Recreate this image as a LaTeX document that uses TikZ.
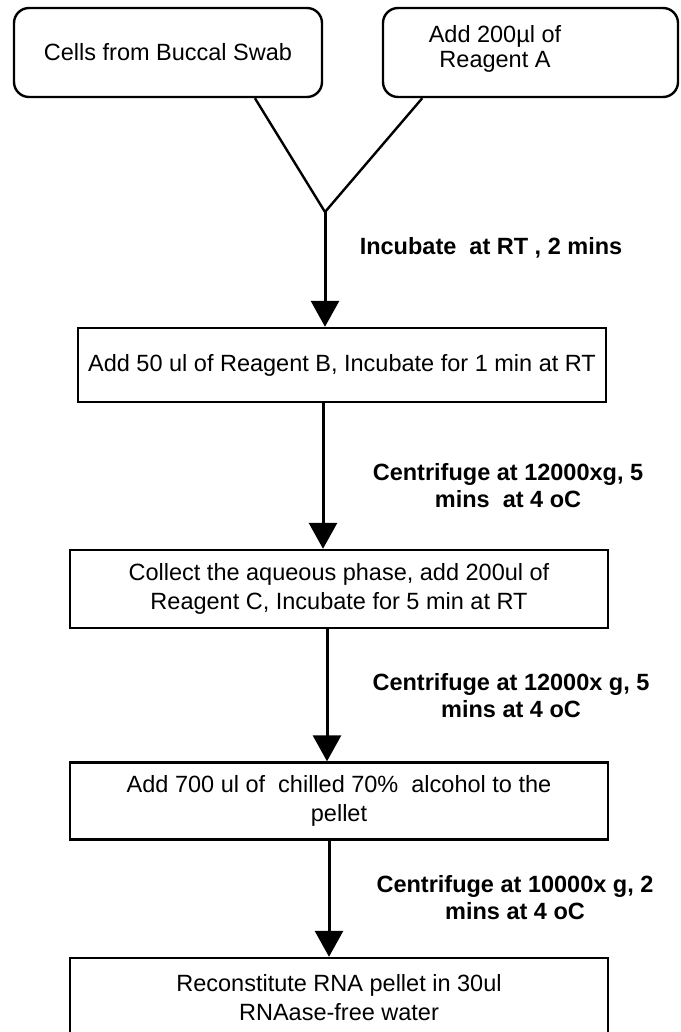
\documentclass[tikz,border=0pt]{standalone}
\usepackage{fontspec}
\setmainfont{Liberation Sans}
\usetikzlibrary{arrows.meta,calc}
\begin{document}
\begin{tikzpicture}[x=1pt,y=-1pt,
  box/.style={draw,line width=2.4pt,minimum width=538pt,minimum height=76pt,inner sep=0pt,align=center,font=\fontsize{23.5}{29}\selectfont},
  rbox/.style={draw,line width=2.4pt,rounded corners=15pt,minimum height=89pt,inner sep=0pt,align=center,font=\fontsize{23.5}{25}\selectfont},
  txt/.style={align=center,inner sep=0pt,font=\fontsize{23.5}{25}\selectfont},
  flow/.style={line width=3pt,-{Triangle[width=28pt,length=26pt]}},
  conn/.style={line width=2.4pt},
  lbl/.style={font=\bfseries\fontsize{23.5}{27}\selectfont,align=center}]
\useasboundingbox[fill=white] (0,0) rectangle (680,1032);

\node[rbox,minimum width=308pt] (b1) at (168,52.5) {Cells from Buccal Swab};
\node[rbox,minimum width=295pt] (b2) at (530.5,52.5) {};
\node[txt] (t2) at (495,49) {Add 200µl of\\Reagent A};
\coordinate (j) at (325,212);
\draw[conn] ($(b1.south west)!0.78!(b1.south east)$) -- (j);
\draw[conn] ($(b2.south west)!0.136!(b2.south east)$) -- (j);

\node[box,minimum width=528pt,minimum height=74pt] (b3) at (342,365) {Add 50 ul of Reagent B, Incubate for 1 min at RT};
\draw[flow] (j) -- (j |- b3.north);
\node[lbl] (l1) at (491,248) {Incubate~~at RT , 2 mins};

\node[box,minimum height=78pt] (b4) at (339,589) {Collect the aqueous phase, add 200ul of\\Reagent C, Incubate for 5 min at RT};
\coordinate (a2) at (323,0);
\draw[flow] (a2 |- b3.south) -- (a2 |- b4.north);
\node[lbl] (l2) at (508,486) {Centrifuge at 12000xg, 5\\mins~~at 4 oC};

\node[box,minimum height=77pt] (b5) at (339,801) {Add 700 ul of~~chilled 70\%~~alcohol to the\\pellet};
\coordinate (a3) at (327,0);
\draw[flow] (a3 |- b4.south) -- (a3 |- b5.north);
\node[lbl] (l3) at (511,696) {Centrifuge at 12000x g, 5\\mins at 4 oC};

\node[box,minimum height=80pt] (b6) at (339,998) {Reconstitute RNA pellet in 30ul\\RNAase-free water};
\coordinate (a4) at (329,0);
\draw[flow] (a4 |- b5.south) -- (a4 |- b6.north);
\node[lbl] (l4) at (515,898) {Centrifuge at 10000x g, 2\\mins at 4 oC};
\end{tikzpicture}
\end{document}
